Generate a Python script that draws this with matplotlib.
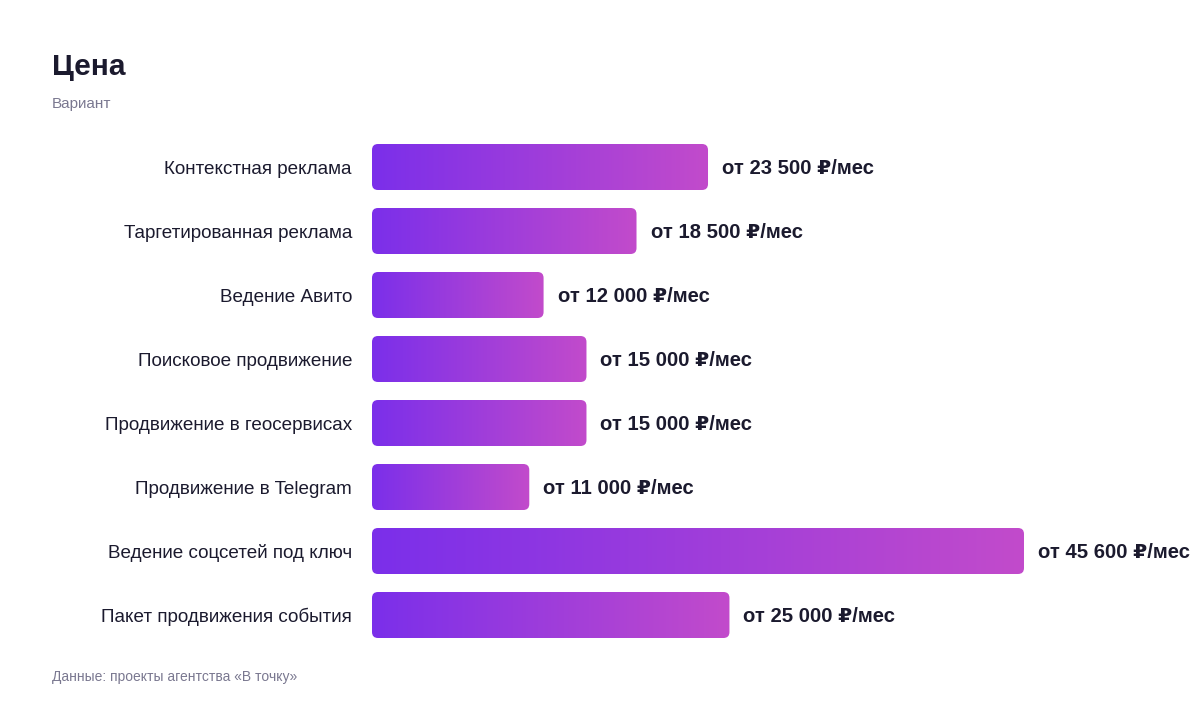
import matplotlib.pyplot as plt
import numpy as np
from matplotlib.colors import LinearSegmentedColormap
from matplotlib.patches import FancyBboxPatch

plt.rcParams['font.family'] = ['Liberation Sans', 'DejaVu Sans']

# data
categories = ['Контекстная реклама', 'Таргетированная реклама', 'Ведение Авито',
              'Поисковое продвижение', 'Продвижение в геосервисах',
              'Продвижение в Telegram', 'Ведение соцсетей под ключ',
              'Пакет продвижения события']
prices = [23500, 18500, 12000, 15000, 15000, 11000, 45600, 25000]
value_labels = ['от 23 500 ₽/мес', 'от 18 500 ₽/мес', 'от 12 000 ₽/мес',
                'от 15 000 ₽/мес', 'от 15 000 ₽/мес', 'от 11 000 ₽/мес',
                'от 45 600 ₽/мес', 'от 25 000 ₽/мес']

W, H = 1200, 712
dark = '#1b1a2e'
grey = '#7a7890'
grad = LinearSegmentedColormap.from_list('g', ['#7b2fea', '#c24bcb'])

fig = plt.figure(figsize=(W / 100, H / 100), dpi=100)
fig.patch.set_facecolor('white')

# axes: x=0 at px 372, x=45600 at px 1024; rows spaced 64px, first center at y=167
x0_px, x1_px = 372, 1024
row_px = 64
top_px = 167 - row_px / 2
n = len(categories)
ax_h_px = n * row_px
ax = fig.add_axes([x0_px / W, 1 - (top_px + ax_h_px) / H, (x1_px - x0_px) / W, ax_h_px / H])
ax.set_xlim(0, max(prices))
ax.set_ylim(n - 0.5, -0.5)
ax.axis('off')

xu = max(prices) / (x1_px - x0_px)   # data units per pixel (x)
yu = 1 / row_px                        # data units per pixel (y)
bar_h = 46 / row_px
radius = 6 * xu

for i, (cat, val, lab) in enumerate(zip(categories, prices, value_labels)):
    patch = FancyBboxPatch((0, i - bar_h / 2), val, bar_h,
                           boxstyle=f'round,pad=0,rounding_size={radius}',
                           mutation_aspect=yu / xu, facecolor='none', edgecolor='none')
    ax.add_patch(patch)
    im = ax.imshow(np.linspace(0, 1, 256).reshape(1, -1), cmap=grad, aspect='auto',
                   extent=(0, val, i + bar_h / 2, i - bar_h / 2), interpolation='bilinear')
    im.set_clip_path(patch)
    ax.text(-20 * xu, i + 2 * yu, cat, ha='right', va='center', fontsize=13.6, color=dark)
    ax.text(val + 14 * xu, i + 2 * yu, lab, ha='left', va='center', fontsize=14.6,
            fontweight='bold', color=dark)

ax.set_xlim(0, max(prices))
ax.set_ylim(n - 0.5, -0.5)

fig.text(52 / W, 1 - 67 / H, 'Цена', fontsize=21.5, fontweight='bold', color=dark, va='center')
fig.text(52 / W, 1 - 104 / H, 'Вариант', fontsize=11, color=grey, va='center')
fig.text(52 / W, 1 - 677 / H, 'Данные: проекты агентства «В точку»', fontsize=10, color=grey, va='center')

fig.savefig('out.png', dpi=100, facecolor='white')
